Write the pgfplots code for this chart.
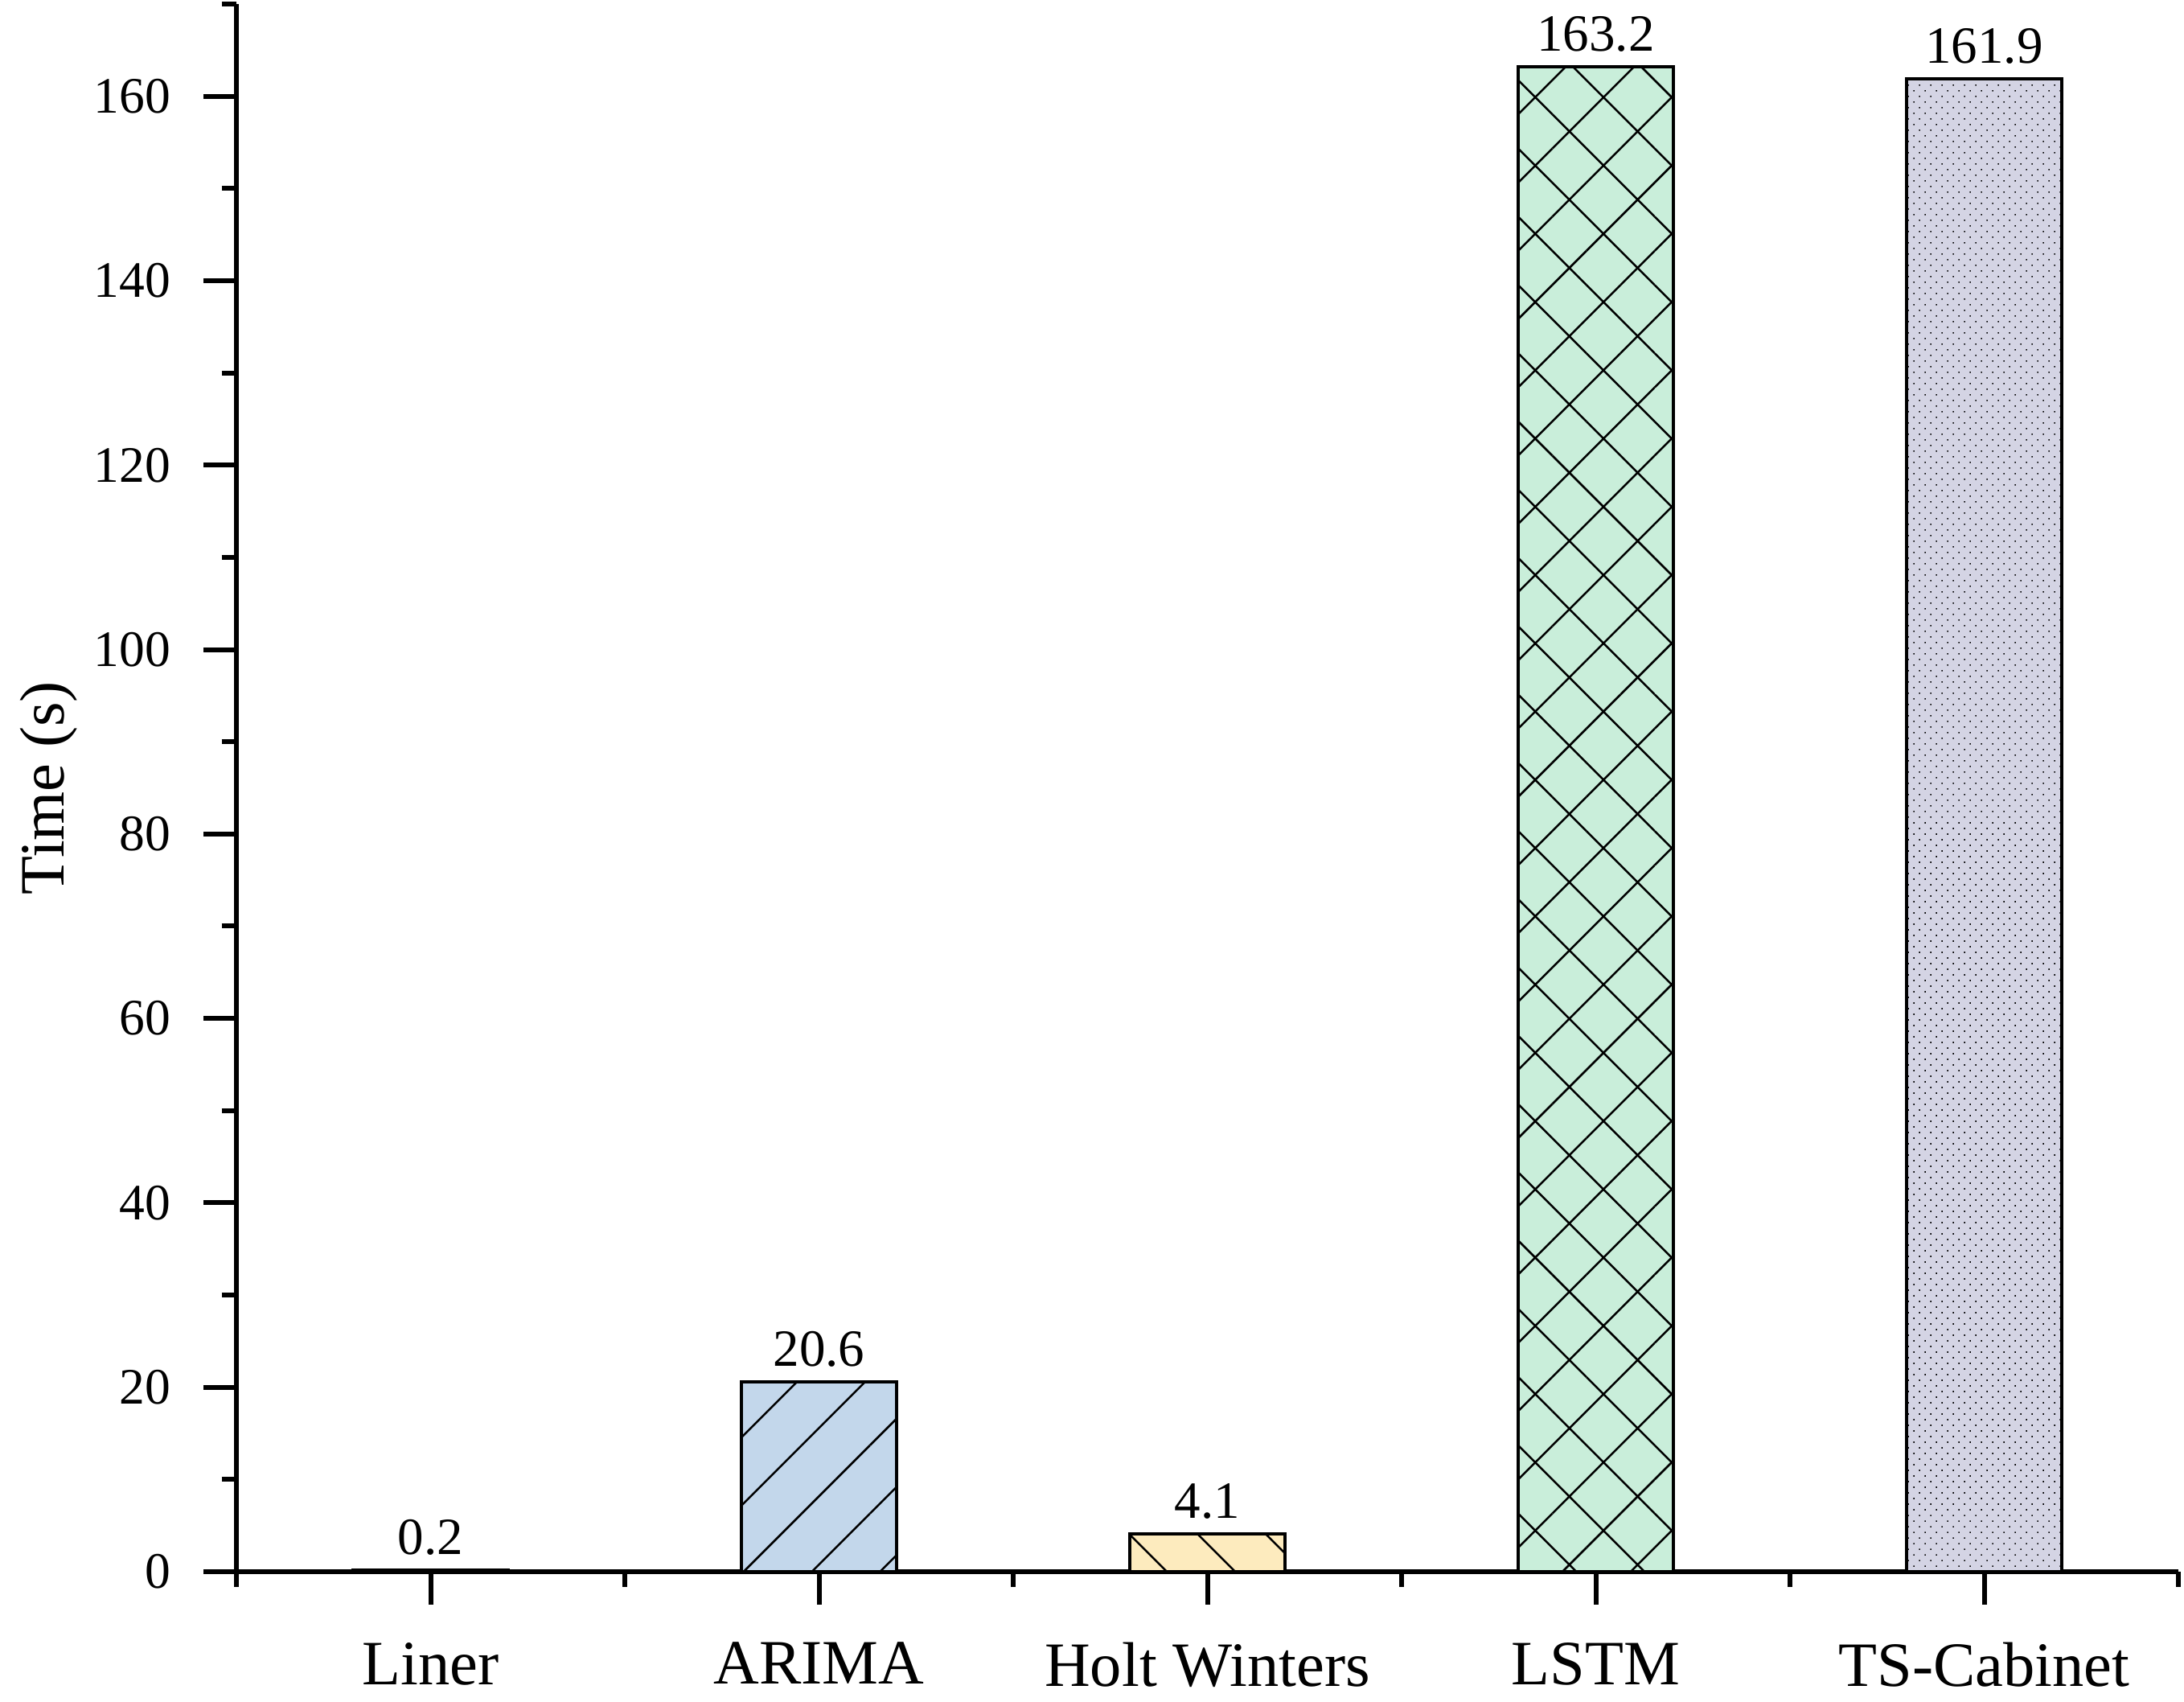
\documentclass[border=0pt]{standalone}
\usepackage{fontspec}
\setmainfont{Liberation Serif}
\usepackage{pgfplots}
\pgfplotsset{compat=1.18}
\usetikzlibrary{patterns.meta,calc}
\definecolor{cL}{HTML}{F4C7C3}
\definecolor{cA}{HTML}{C3D7EB}
\definecolor{cH}{HTML}{FDEBBE}
\definecolor{cS}{HTML}{C9EEDA}
\definecolor{cT}{HTML}{D4D4E4}
\begin{document}
\begin{tikzpicture}
\begin{axis}[
  scale only axis, width=483pt, height=389.8pt,
  xmin=-0.5, xmax=4.5, ymin=0, ymax=170,
  axis x line=bottom, axis y line=left,
  axis line style={-, line width=1.2pt},
  xtick={0,1,2,3,4},
  xticklabels={Liner,ARIMA,Holt Winters,LSTM,TS-Cabinet},
  minor xtick={-0.5,0.5,1.5,2.5,3.5,4.5},
  ytick={0,20,...,160}, minor ytick={10,30,...,170},
  tick align=outside,
  major tick length=8.2pt, minor tick length=3.7pt,
  tick style={black, line width=1.2pt},
  /pgf/number format/assume math mode=true,
  yticklabel style={font=\fontsize{12.7}{14}\selectfont, inner sep=0pt, anchor=east, xshift=-8pt},
  xticklabel style={font=\fontsize{15.7}{18}\selectfont, inner sep=0pt, anchor=north, yshift=-9.2pt},
  ybar, bar width=0.4, bar shift=0pt,
  nodes near coords={\pgfmathprintnumber[fixed,fixed zerofill,precision=1]{\pgfplotspointmeta}},
  every node near coord/.append style={font=\fontsize{13}{15}\selectfont, inner sep=0pt, anchor=south, yshift=3.3pt, black},
  clip=false,
]
\addplot[draw=black, line width=0.8pt, fill=cL] coordinates {(0,0.2)};
\addplot[draw=black, line width=0.8pt, fill=cA, postaction={pattern={Lines[angle=45,distance=12pt,line width=0.5pt]}, pattern color=black}] coordinates {(1,20.6)};
\addplot[draw=black, line width=0.8pt, fill=cH, postaction={pattern={Lines[angle=-45,distance=12pt,line width=0.5pt]}, pattern color=black}] coordinates {(2,4.1)};
\addplot[draw=black, line width=0.8pt, fill=cS, postaction={pattern={Hatch[angle=45,distance=12pt,line width=0.5pt]}, pattern color=black}] coordinates {(3,163.2)};
\addplot[draw=black, line width=0.8pt, fill=cT, postaction={pattern={Dots[distance=1.98pt,angle=45,radius=0.22pt]}, pattern color=black}] coordinates {(4,161.9)};
\coordinate (sw) at (rel axis cs:0,0);
\coordinate (ne) at (rel axis cs:1,1);
\end{axis}
\node[rotate=90, anchor=base, inner sep=0pt, font=\fontsize{15.7}{18}\selectfont] at ($(sw)!0.5!(sw|-ne)+(-42.8pt,0)$) {Time (s)};
\pgfresetboundingbox
\path ($(sw)+(-58.8pt,-32.2pt)$) rectangle ($(ne)+(1.4pt,1pt)$);
\end{tikzpicture}
\end{document}
